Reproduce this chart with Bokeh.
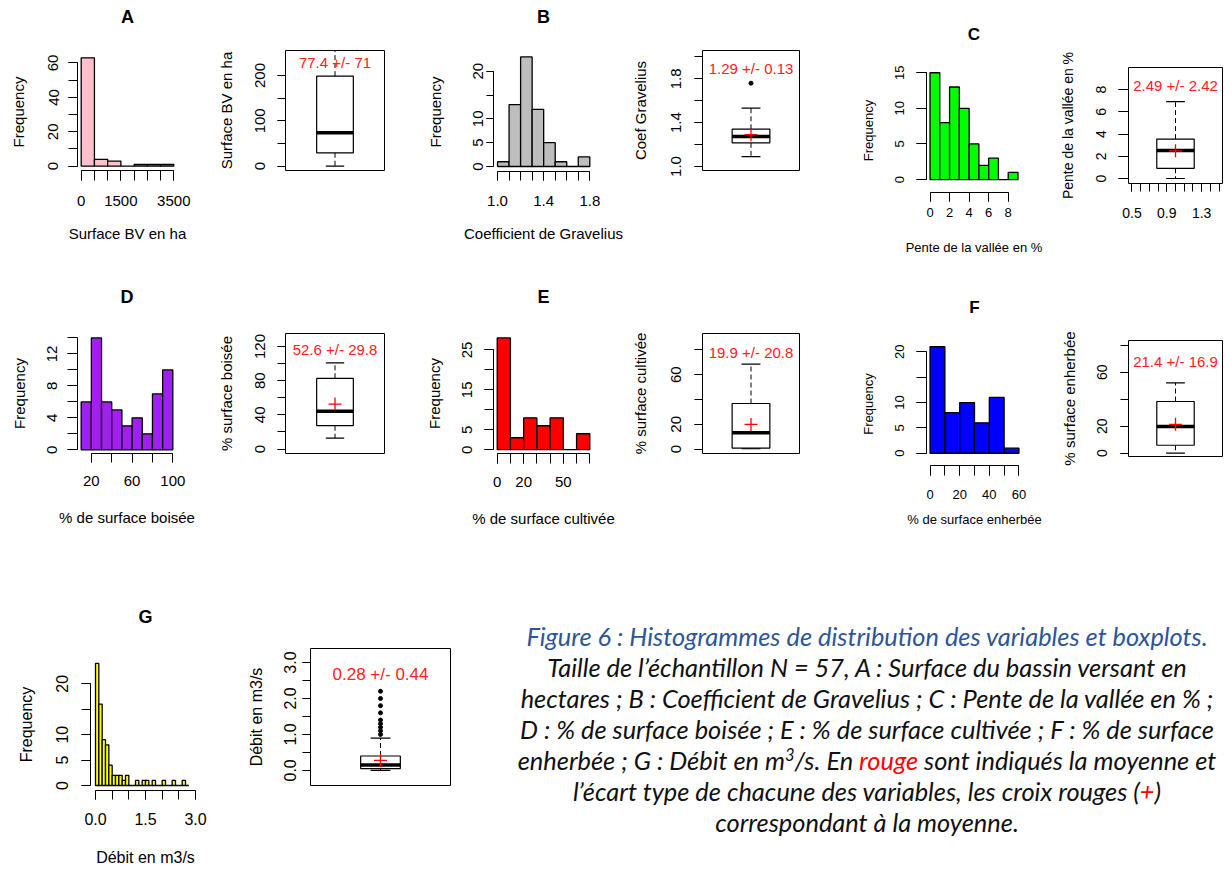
from bokeh.plotting import figure
from bokeh.models import Range1d, LinearAxis, FixedTicker, Div, PrintfTickFormatter
from bokeh.layouts import row, column
from bokeh.embed import file_html
from bokeh.resources import INLINE
from bokeh.core.properties import value

FONT = "Liberation Sans"

# ---------------- data ----------------
a_edges = [0, 500, 1000, 1500, 2000, 2500, 3000, 3500]
a_counts = [63, 4, 3, 0, 1, 1, 1]
b_edges = [1.0, 1.1, 1.2, 1.3, 1.4, 1.5, 1.6, 1.7, 1.8]
b_counts = [1, 13, 23, 12, 5, 1, 0, 2]
c_edges = [0, 1, 2, 3, 4, 5, 6, 7, 8, 9]
c_counts = [15, 8, 13, 10, 5, 2, 3, 0, 1]
d_edges = [10, 20, 30, 40, 50, 60, 70, 80, 90, 100]
d_counts = [6, 14, 6, 5, 3, 4, 2, 7, 10]
e_edges = [0, 10, 20, 30, 40, 50, 60, 70]
e_counts = [28, 3, 8, 6, 8, 0, 4]
f_edges = [0, 10, 20, 30, 40, 50, 60]
f_counts = [21, 8, 10, 6, 11, 1]
g_edges = [0.0, 0.1, 0.2, 0.3, 0.4, 0.5, 0.6, 0.7, 0.8, 0.9, 1.0, 1.1, 1.2, 1.3, 1.4,
           1.5, 1.6, 1.7, 1.8, 1.9, 2.0, 2.1, 2.2, 2.3, 2.4, 2.5, 2.6, 2.7, 2.8]
g_counts = [24, 16, 9, 8, 4, 2, 2, 2, 1, 2, 0, 0, 1, 0, 1, 1, 0, 1, 0, 0, 1, 0, 0, 1, 0, 0, 1, 0]

hist_xlabels = ["Surface BV en ha", "Coefficient de Gravelius", "Pente de la vallée en %",
                "% de surface boisée", "% de surface cultivée", "% de surface enherbée", "Débit en m3/s"]
box_ylabels = ["Surface BV en ha", "Coef Gravelius", "Pente de la vallée en %",
               "% surface boisée", "% surface cultivée", "% surface enherbée", "Débit en m3/s"]
titles = ["A", "B", "C", "D", "E", "F", "G"]

means = [77.4, 1.29, 2.49, 52.6, 19.9, 21.4, 0.28]
sds = [71, 0.13, 2.42, 29.8, 20.8, 16.9, 0.44]
box_low = [0, 1.09, 0.0, 12.9, 0.3, 0.0, 0.0]
box_q1 = [29.5, 1.216, 0.92, 27.3, 0.8, 5.9, 0.05]
box_med = [73.7, 1.274, 2.53, 44.1, 13.2, 19.8, 0.15]
box_q3 = [198.5, 1.34, 3.55, 82.8, 36.8, 38.3, 0.40]
box_high = [300, 1.532, 6.92, 100.8, 68.6, 52.1, 0.90]
box_out = [[], [1.76], [], [], [], [], [1.0, 1.1, 1.2, 1.3, 1.4, 1.6, 1.8, 2.0, 2.2]]
show_mean = [False, True, True, True, True, True, True]

# tick values and labelled ticks
a_xt, a_xl = [0, 500, 1000, 1500, 2000, 2500, 3000, 3500], [0, 1500, 3500]
a_yt, a_yl = [0, 10, 20, 30, 40, 50, 60], [0, 20, 40, 60]
b_xt, b_xl = [1.0, 1.1, 1.2, 1.3, 1.4, 1.5, 1.6, 1.7, 1.8], [1.0, 1.4, 1.8]
b_yt, b_yl = [0, 5, 10, 15, 20], [0, 5, 10, 20]
c_xt, c_xl = [0, 2, 4, 6, 8], [0, 2, 4, 6, 8]
c_yt, c_yl = [0, 5, 10, 15], [0, 5, 10, 15]
d_xt, d_xl = [20, 40, 60, 80, 100], [20, 60, 100]
d_yt, d_yl = [0, 2, 4, 6, 8, 10, 12, 14], [0, 4, 8, 12]
e_xt, e_xl = [0, 10, 20, 30, 40, 50, 60, 70], [0, 20, 50]
e_yt, e_yl = [0, 5, 10, 15, 20, 25], [0, 5, 15, 25]
f_xt, f_xl = [0, 10, 20, 30, 40, 50, 60], [0, 20, 40, 60]
f_yt, f_yl = [0, 5, 10, 15, 20], [0, 5, 10, 20]
g_xt, g_xl = [0.0, 0.5, 1.0, 1.5, 2.0, 2.5, 3.0], [0.0, 1.5, 3.0]
g_yt, g_yl = [0, 5, 10, 15, 20], [0, 5, 10, 20]

ba_yt, ba_yl = [0, 50, 100, 150, 200], [0, 100, 200]
bb_yt, bb_yl = [1.0, 1.2, 1.4, 1.6, 1.8, 2.0], [1.0, 1.4, 1.8]
bc_yt, bc_yl = [0, 2, 4, 6, 8], [0, 2, 4, 6, 8]
bc_xt = [0.5, 0.6, 0.7, 0.8, 0.9, 1.0, 1.1, 1.2, 1.3, 1.4, 1.5]
bc_xl = [0.5, 0.9, 1.3]
bd_yt, bd_yl = [0, 20, 40, 60, 80, 100, 120], [0, 40, 80, 120]
be_yt, be_yl = [0, 20, 40, 60, 80], [0, 20, 60]
bf_yt, bf_yl = [0, 20, 40, 60, 80], [0, 20, 60]
bg_yt, bg_yl = [0.0, 0.5, 1.0, 1.5, 2.0, 2.5, 3.0], [0.0, 1.0, 2.0, 3.0]

CORR = 3  # empirical offset of bokeh label boxes


# ---------------- helpers ----------------
def base_fig(slot, frame, xr, yr, outline):
    sx0, sy0, sx1, sy1 = slot
    fx0, fy0, fx1, fy1 = frame
    p = figure(width=sx1 - sx0, height=sy1 - sy0,
               x_range=Range1d(*xr), y_range=Range1d(*yr),
               x_axis_type=None, y_axis_type=None,
               min_border_left=fx0 - sx0, min_border_right=sx1 - fx1,
               min_border_top=fy0 - sy0, min_border_bottom=sy1 - fy1,
               toolbar_location=None, tools="", output_backend="svg")
    p.outline_line_color = "black" if outline else None
    p.outline_line_width = 1
    p.background_fill_color = "white"
    p.border_fill_color = "white"
    return p


def add_axis(p, side, ticks, labelled, fs, tick, d1, label=None, lab_fs=15, d2=60, fmt=None):
    ax = LinearAxis(ticker=FixedTicker(ticks=labelled, minor_ticks=ticks))
    ax.bounds = (min(ticks), max(ticks))
    ax.axis_line_color = "black"
    ax.axis_line_width = 1
    ax.major_tick_in = 0
    ax.major_tick_out = tick
    ax.minor_tick_in = 0
    ax.minor_tick_out = tick
    ax.major_tick_line_color = "black"
    ax.minor_tick_line_color = "black"
    ax.major_label_text_font = FONT
    ax.major_label_text_font_size = f"{fs}px"
    ax.major_label_text_color = "black"
    ax.major_label_standoff = max(0, int(round(d1 - tick - 0.56 * fs + CORR)))
    if side in ("left", "right"):
        ax.major_label_orientation = "vertical"
    if fmt:
        ax.formatter = PrintfTickFormatter(format=fmt)
    if label:
        ax.axis_label = label
        ax.axis_label_text_font = FONT
        ax.axis_label_text_font_size = f"{lab_fs}px"
        ax.axis_label_text_font_style = "normal"
        ax.axis_label_text_color = "black"
        ax.axis_label_standoff = max(0, int(round(d2 - d1 - 0.56 * fs - 0.56 * lab_fs)))
    p.add_layout(ax, side)
    return ax


def add_title(p, text, fs, frame_top, center_y):
    ax = LinearAxis(ticker=FixedTicker(ticks=[]))
    ax.axis_line_color = None
    ax.major_tick_in = 0
    ax.major_tick_out = 0
    ax.minor_tick_in = 0
    ax.minor_tick_out = 0
    ax.major_label_standoff = 0
    ax.axis_label = text
    ax.axis_label_text_font = FONT
    ax.axis_label_text_font_size = f"{fs}px"
    ax.axis_label_text_font_style = "bold"
    ax.axis_label_text_color = "black"
    ax.axis_label_standoff = max(0, int(round(frame_top - center_y - 0.56 * fs + 2)))
    p.add_layout(ax, "above")


def hist_panel(i, edges, counts, color, cfg):
    p = base_fig(cfg["slot"], cfg["frame"], cfg["xr"], cfg["yr"], False)
    p.quad(left=edges[:-1], right=edges[1:], bottom=0, top=counts,
           fill_color=color, line_color="black", line_width=1.3)
    add_title(p, titles[i], cfg["tfs"], cfg["frame"][1], cfg["title_y"])
    xa, ya = cfg["x"], cfg["y"]
    add_axis(p, "below", xa["t"], xa["l"], xa["fs"], xa["tick"], xa["d1"], hist_xlabels[i], xa["lfs"], xa["d2"], xa.get("fmt"))
    add_axis(p, "left", ya["t"], ya["l"], ya["fs"], ya["tick"], ya["d1"], "Frequency", ya["lfs"], ya["d2"])
    return column([p], spacing=0)


def box_panel(i, cfg):
    c = cfg.get("cx", 1.0)
    p = base_fig(cfg["slot"], cfg["frame"], cfg.get("xr", (0.46, 1.54)), cfg["yr"], True)
    hw = cfg["hw"]
    p.segment(x0=[c, c], y0=[box_q3[i], box_q1[i]], x1=[c, c], y1=[box_high[i], box_low[i]],
              line_color="black", line_width=1, line_dash="5 3")
    p.segment(x0=[c - hw / 2, c - hw / 2], y0=[box_high[i], box_low[i]],
              x1=[c + hw / 2, c + hw / 2], y1=[box_high[i], box_low[i]],
              line_color="black", line_width=1.2)
    p.quad(left=[c - hw], right=[c + hw], bottom=[box_q1[i]], top=[box_q3[i]],
           fill_color="white", line_color="black", line_width=1.2)
    p.segment(x0=[c - hw], y0=[box_med[i]], x1=[c + hw], y1=[box_med[i]],
              line_color="black", line_width=3.5)
    if box_out[i]:
        p.scatter(x=[c] * len(box_out[i]), y=box_out[i], size=4, marker="circle",
                  fill_color="black", line_color="black")
    if show_mean[i]:
        p.scatter(x=[c], y=[means[i]], marker="cross", size=13, line_color="red", line_width=1.3)
    p.text(x=[c], y=[cfg["text_y"]], text=[f"{means[i]:g} +/- {sds[i]:g}"],
           text_align="center", text_baseline="middle", text_color="#ff2020",
           text_font=value(FONT), text_font_size=f"{cfg['tfs']}px")
    ya = cfg["y"]
    add_axis(p, "left", ya["t"], ya["l"], ya["fs"], ya["tick"], ya["d1"], box_ylabels[i], ya["lfs"], ya["d2"], ya.get("fmt"))
    if "x" in cfg:
        xa = cfg["x"]
        add_axis(p, "below", xa["t"], xa["l"], xa["fs"], xa["tick"], xa["d1"], None, 14, 0, xa.get("fmt"))
    return column([p], spacing=0)


# rows (page coordinates)
R1, R2, R3 = (0, 262), (262, 545), (545, 870)

histA = hist_panel(0, a_edges, a_counts, "#FFC0CB", dict(
    slot=(0, R1[0], 200, R1[1]), frame=(77, 53, 177, 170), xr=(-140, 3640), yr=(-2.5, 65.5),
    title_y=18, tfs=18,
    x=dict(t=a_xt, l=a_xl, fs=15, tick=10, d1=30, lfs=15, d2=63),
    y=dict(t=a_yt, l=a_yl, fs=15, tick=9, d1=24.5, lfs=15, d2=60)))
boxA = box_panel(0, dict(slot=(200, R1[0], 415, R1[1]), frame=(285, 50, 384, 170), yr=(-9.5, 255),
                         hw=0.2, text_y=228.8, tfs=15,
                         y=dict(t=ba_yt, l=ba_yl, fs=15, tick=8, d1=25.7, lfs=15, d2=60)))
histB = hist_panel(1, b_edges, b_counts, "#BEBEBE", dict(
    slot=(415, R1[0], 628, R1[1]), frame=(493, 52, 593, 171), xr=(0.965, 1.832), yr=(-1.05, 23.92),
    title_y=18, tfs=18,
    x=dict(t=b_xt, l=b_xl, fs=15, tick=9, d1=29.3, lfs=15, d2=62.6, fmt="%.1f"),
    y=dict(t=b_yt, l=b_yl, fs=15, tick=7, d1=15.5, lfs=15, d2=59.4)))
boxB = box_panel(1, dict(slot=(628, R1[0], 840, R1[1]), frame=(701, 50, 799, 170), yr=(0.9635, 2.058),
                         hw=0.21, text_y=1.89, tfs=15,
                         y=dict(t=bb_yt, l=bb_yl, fs=15, tick=8, d1=26, lfs=15, d2=62.7, fmt="%.1f")))
histC = hist_panel(2, c_edges, c_counts, "#00FF00", dict(
    slot=(840, R1[0], 1048, R1[1]), frame=(926, 68, 1021, 192), xr=(-0.36, 9.36), yr=(-1.82, 15.6),
    title_y=35, tfs=17,
    x=dict(t=c_xt, l=c_xl, fs=13, tick=9, d1=19.4, lfs=13, d2=54.4),
    y=dict(t=c_yt, l=c_yl, fs=13, tick=10, d1=26.7, lfs=13, d2=58.4)))
boxC = box_panel(2, dict(slot=(1048, R1[0], 1225, R1[1]), frame=(1128, 67, 1222, 183), yr=(-0.45, 10.0),
                         hw=0.215, text_y=8.35, tfs=15,
                         y=dict(t=bc_yt, l=bc_yl, fs=14, tick=10, d1=26.6, lfs=14, d2=60),
                         x=dict(t=bc_xt, l=bc_xl, fs=14, tick=8, d1=28.7, fmt="%.1f")))

histD = hist_panel(3, d_edges, d_counts, "#A020F0", dict(
    slot=(0, R2[0], 200, R2[1]), frame=(77, 333, 176, 453), xr=(6.4, 103.6), yr=(-0.46, 14.56),
    title_y=298.3, tfs=18,
    x=dict(t=d_xt, l=d_xl, fs=15, tick=9, d1=27.3, lfs=15, d2=64),
    y=dict(t=d_yt, l=d_yl, fs=15, tick=10, d1=25, lfs=15, d2=58.4)))
boxD = box_panel(3, dict(slot=(200, R2[0], 415, R2[1]), frame=(285, 333, 384, 453), yr=(-5.2, 135.2),
                         hw=0.2, text_y=117, tfs=15,
                         y=dict(t=bd_yt, l=bd_yl, fs=15, tick=8, d1=25.7, lfs=15, d2=60)))
histE = hist_panel(4, e_edges, e_counts, "#FF0000", dict(
    slot=(415, R2[0], 628, R2[1]), frame=(493, 333, 593, 453), xr=(-2.8, 72.8), yr=(-0.95, 29.12),
    title_y=298.3, tfs=18,
    x=dict(t=e_xt, l=e_xl, fs=15, tick=10, d1=28.3, lfs=15, d2=65),
    y=dict(t=e_yt, l=e_yl, fs=15, tick=9, d1=26, lfs=15, d2=59.4)))
boxE = box_panel(4, dict(slot=(628, R2[0], 840, R2[1]), frame=(701, 333, 799, 453), yr=(-3.55, 93.3),
                         hw=0.21, text_y=78, tfs=15,
                         y=dict(t=be_yt, l=be_yl, fs=15, tick=8, d1=26, lfs=15, d2=62.7)))
histF = hist_panel(5, f_edges, f_counts, "#0000FF", dict(
    slot=(840, R2[0], 1048, R2[1]), frame=(926, 342, 1022, 465), xr=(-2.4, 62.4), yr=(-2.42, 21.84),
    title_y=308.3, tfs=17,
    x=dict(t=f_xt, l=f_xl, fs=13, tick=10, d1=28.3, lfs=13, d2=53.3),
    y=dict(t=f_yt, l=f_yl, fs=13, tick=10, d1=26.7, lfs=13, d2=58.4)))
boxF = box_panel(5, dict(slot=(1048, R2[0], 1225, R2[1]), frame=(1128, 340, 1222, 456), yr=(-2.44, 83.5),
                         hw=0.215, text_y=68, tfs=15,
                         y=dict(t=bf_yt, l=bf_yl, fs=14, tick=8, d1=26, lfs=15, d2=59.4)))

histG = hist_panel(6, g_edges, g_counts, "#FFFF00", dict(
    slot=(0, R3[0], 215, R3[1]), frame=(90, 658, 200, 790), xr=(-0.15, 3.15), yr=(-0.98, 24.96),
    title_y=618, tfs=18,
    x=dict(t=g_xt, l=g_xl, fs=16, tick=9, d1=28, lfs=16, d2=67, fmt="%.1f"),
    y=dict(t=g_yt, l=g_yl, fs=16, tick=9, d1=28, lfs=16, d2=65)))
boxG = box_panel(6, dict(slot=(215, R3[0], 470, R3[1]), frame=(310, 648, 450, 785), yr=(-0.42, 3.39),
                         hw=0.153, text_y=2.67, tfs=17,
                         y=dict(t=bg_yt, l=bg_yl, fs=16, tick=8, d1=20, lfs=16, d2=55, fmt="%.1f")))

caption_html = (
    '<div style="width:755px;height:325px;overflow:hidden;position:relative;">'
    '<div style="position:absolute;left:0;top:76px;width:794px;text-align:center;'
    'font-family:Lato;font-style:italic;font-size:25.4px;line-height:31px;color:#111111;white-space:nowrap;">'
    '<span style="color:#2E5597">Figure 6 : Histogrammes de distribution des variables et boxplots.</span><br>'
    'Taille de l\u2019\u00e9chantillon N = 57, A : Surface du bassin versant en<br>'
    'hectares ; B : Coefficient de Gravelius ; C : Pente de la vall\u00e9e en % ;<br>'
    'D : % de surface bois\u00e9e ; E : % de surface cultiv\u00e9e ; F : % de surface<br>'
    'enherb\u00e9e ; G : D\u00e9bit en m<sup style="font-size:0.65em;line-height:0">3</sup>/s. En '
    '<span style="color:#ff0000">rouge</span> sont indiqu\u00e9s la moyenne et<br>'
    'l\u2019\u00e9cart type de chacune des variables, les croix rouges (<span style="color:#ff0000">+</span>)<br>'
    'correspondant \u00e0 la moyenne.'
    '</div></div>')
caption = Div(text=caption_html, width=755, height=325, margin=(0, 0, 0, 0))

row1 = row([histA, boxA, histB, boxB, histC, boxC], spacing=0)
row2 = row([histD, boxD, histE, boxE, histF, boxF], spacing=0)
row3 = row([histG, boxG, caption], spacing=0)
layout = column([row1, row2, row3], spacing=0)

open("out.html", "w").write(file_html(layout, INLINE))
